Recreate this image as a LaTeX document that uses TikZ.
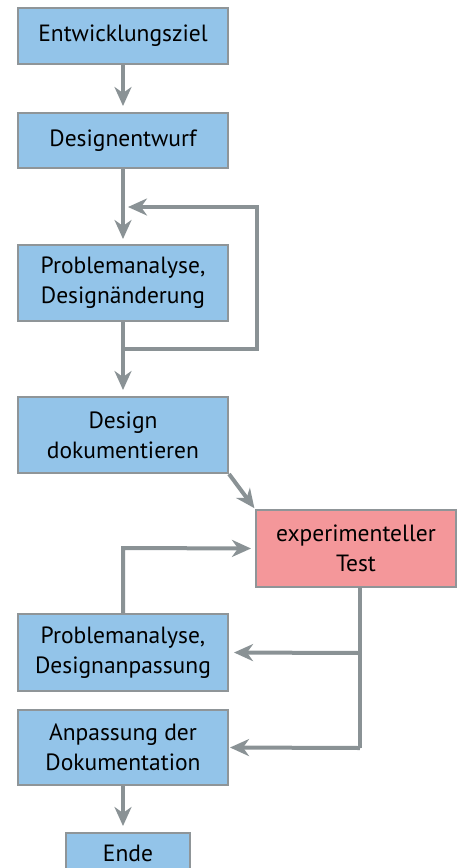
\documentclass[tikz,border=0pt]{standalone}
\usepackage{fontspec}
\setmainfont{PT Sans}
\usetikzlibrary{arrows.meta,calc}
\definecolor{boxblue}{HTML}{93C4E9}
\definecolor{boxred}{HTML}{F4979A}
\definecolor{edgegray}{HTML}{8F9598}
\definecolor{arrgray}{HTML}{8A9295}
\begin{document}
\begin{tikzpicture}[x=1pt,y=-1pt,
  box/.style={draw=edgegray,line width=2pt,fill=boxblue,minimum width=210pt,inner sep=0pt,align=center,font=\fontsize{23.5}{30}\selectfont},
  conn/.style={draw=arrgray,line width=4pt},
  arr/.style={conn,-{Stealth[length=19pt,width=17pt,inset=6pt]}}]
\useasboundingbox (0,0) rectangle (462,868);
\node[box,minimum height=56pt] (b1) at (123,36) {Entwicklungsziel};
\node[box,minimum height=55pt] (b2) at (123,140.5) {Designentwurf};
\node[box,minimum height=76pt] (b3) at (123,283) {Problemanalyse,\\Designänderung};
\node[box,minimum height=76pt] (b4) at (123,435) {Design\\dokumentieren};
\node[box,fill=boxred,minimum width=200pt,minimum height=77pt] (t) at (356,548.5) {experimenteller\\Test};
\node[box,minimum height=77pt] (b5) at (123,652.5) {Problemanalyse,\\Designanpassung};
\node[box,minimum height=75pt] (b6) at (123,747.5) {Anpassung der\\Dokumentation};
\node[box,minimum width=124pt,minimum height=40pt] (e) at (128,853) {Ende};
\coordinate (j1) at (123,349);
\coordinate (r1) at (257,349);
\coordinate (r2) at (257,207);
\coordinate (fb) at (125,207);
\coordinate (tb) at (360,587);
\coordinate (k1) at (360,653);
\coordinate (k2) at (360,748);
\coordinate (u5) at (123,548);
\draw[arr,shorten >=6pt] (b1.south) -- (b2.north);
\draw[arr,shorten >=5pt] (b2.south) -- (b3.north);
\draw[arr] (j1) -- (r1) -- (r2) -- ([xshift=3pt]fb);
\draw[arr,shorten >=6pt] (b3.south) -- (b4.north);
\draw[arr,shorten >=1pt] (b4.south east) -- (t.north west);
\draw[arr,shorten >=4pt] (b5.north) -- (u5) -- (t.west);
\draw[conn] (tb) -- (k2);
\draw[arr,shorten >=5pt] (k1) -- (b5.east);
\draw[arr,shorten >=1pt] (k2) -- (b6.east);
\draw[arr,shorten >=6pt] (b6.south) -- (b6.south |- e.north);
\end{tikzpicture}
\end{document}
